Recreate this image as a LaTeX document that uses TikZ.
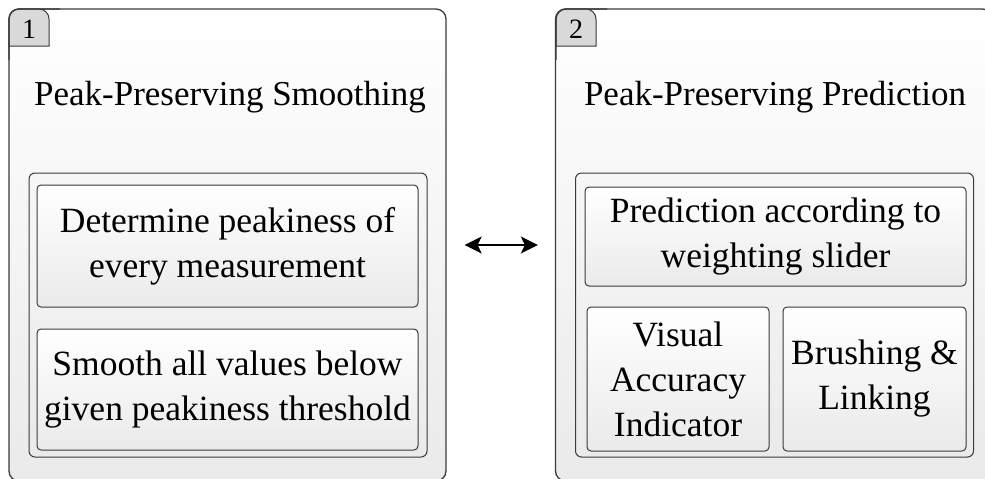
\documentclass[tikz,border=0pt]{standalone}
\usepackage{fontspec}
\setmainfont{Liberation Serif}
\usetikzlibrary{arrows.meta, positioning}

\definecolor{edgegray}{HTML}{3A3A3A}
\definecolor{tabgray}{HTML}{D9D9D9}
\definecolor{lowgray}{HTML}{EAEAEA}

\begin{document}
\begin{tikzpicture}[x=1pt, y=-1pt,
    panel/.style={draw=edgegray, line width=1.3pt, rounded corners=10pt, top color=white, bottom color=lowgray, minimum width=437pt, minimum height=472pt},
    frame/.style={draw=edgegray, line width=1pt, rounded corners=6pt, top color=white!97!black, bottom color=lowgray, minimum width=398pt, minimum height=284pt},
    task/.style={draw=edgegray, line width=1pt, rounded corners=4pt, top color=white, bottom color=lowgray, align=center, inner sep=0pt, font=\fontsize{35.5}{45}\selectfont},
    heading/.style={anchor=base, font=\fontsize{35}{40}\selectfont},
    tabnum/.style={font=\fontsize{28}{30}\selectfont}]
    \useasboundingbox (0,0) rectangle (985,479);
    \clip (0,0) rectangle (985,479);

    % Outer panels
    \node[panel] (boxA) at (227.5,245) {};
    \node[panel] (boxB) at (774,245) {};

    % Number tabs
    \draw[draw=edgegray, line width=1pt, fill=tabgray] (9,46) [rounded corners=10pt] |- (49,9) [sharp corners] -- (49,46) -- cycle;
    \draw[draw=edgegray, line width=1pt, fill=tabgray] (556,46) [rounded corners=10pt] |- (596,9) [sharp corners] -- (596,46) -- cycle;
    \draw[edgegray, line width=1.3pt, rounded corners=10pt] (9,60) |- (60,9);
    \draw[edgegray, line width=1.3pt, rounded corners=10pt] (556,60) |- (607,9);
    \node[tabnum] (tabA) at (29,29) {1};
    \node[tabnum] (tabB) at (576,29) {2};

    % Titles
    \node[heading] (titleA) at (230,105) {Peak-Preserving Smoothing};
    \node[heading] (titleB) at (775,105) {Peak-Preserving Prediction};

    % Inner frames
    \node[frame] (frameA) at (228,315) {};
    \node[frame] (frameB) at (774.5,315) {};

    % Steps
    \node[task, minimum width=381pt, minimum height=122pt] (peakA) at (227.5,246) {Determine peakiness of\\every measurement};
    \node[task, minimum width=381pt, minimum height=121pt] (smoothA) at (227.5,389.5) {Smooth all values below\\given peakiness threshold};
    \node[task, minimum width=381pt, minimum height=99pt] (predB) at (775.5,236.5) {Prediction according to\\weighting slider};
    \node[task, minimum width=182pt, minimum height=144pt] (visB) at (678,379) {Visual\\Accuracy\\Indicator};
    \node[task, minimum width=183pt, minimum height=144pt] (brushB) at (874.5,379) {Brushing \&\\Linking};

    % Link between panels
    \draw[{Stealth[length=17pt, width=17pt, inset=4pt]}-{Stealth[length=17pt, width=17pt, inset=4pt]}, line width=1.5pt, shorten <=18pt, shorten >=17pt] (boxA) -- (boxB);
\end{tikzpicture}
\end{document}
